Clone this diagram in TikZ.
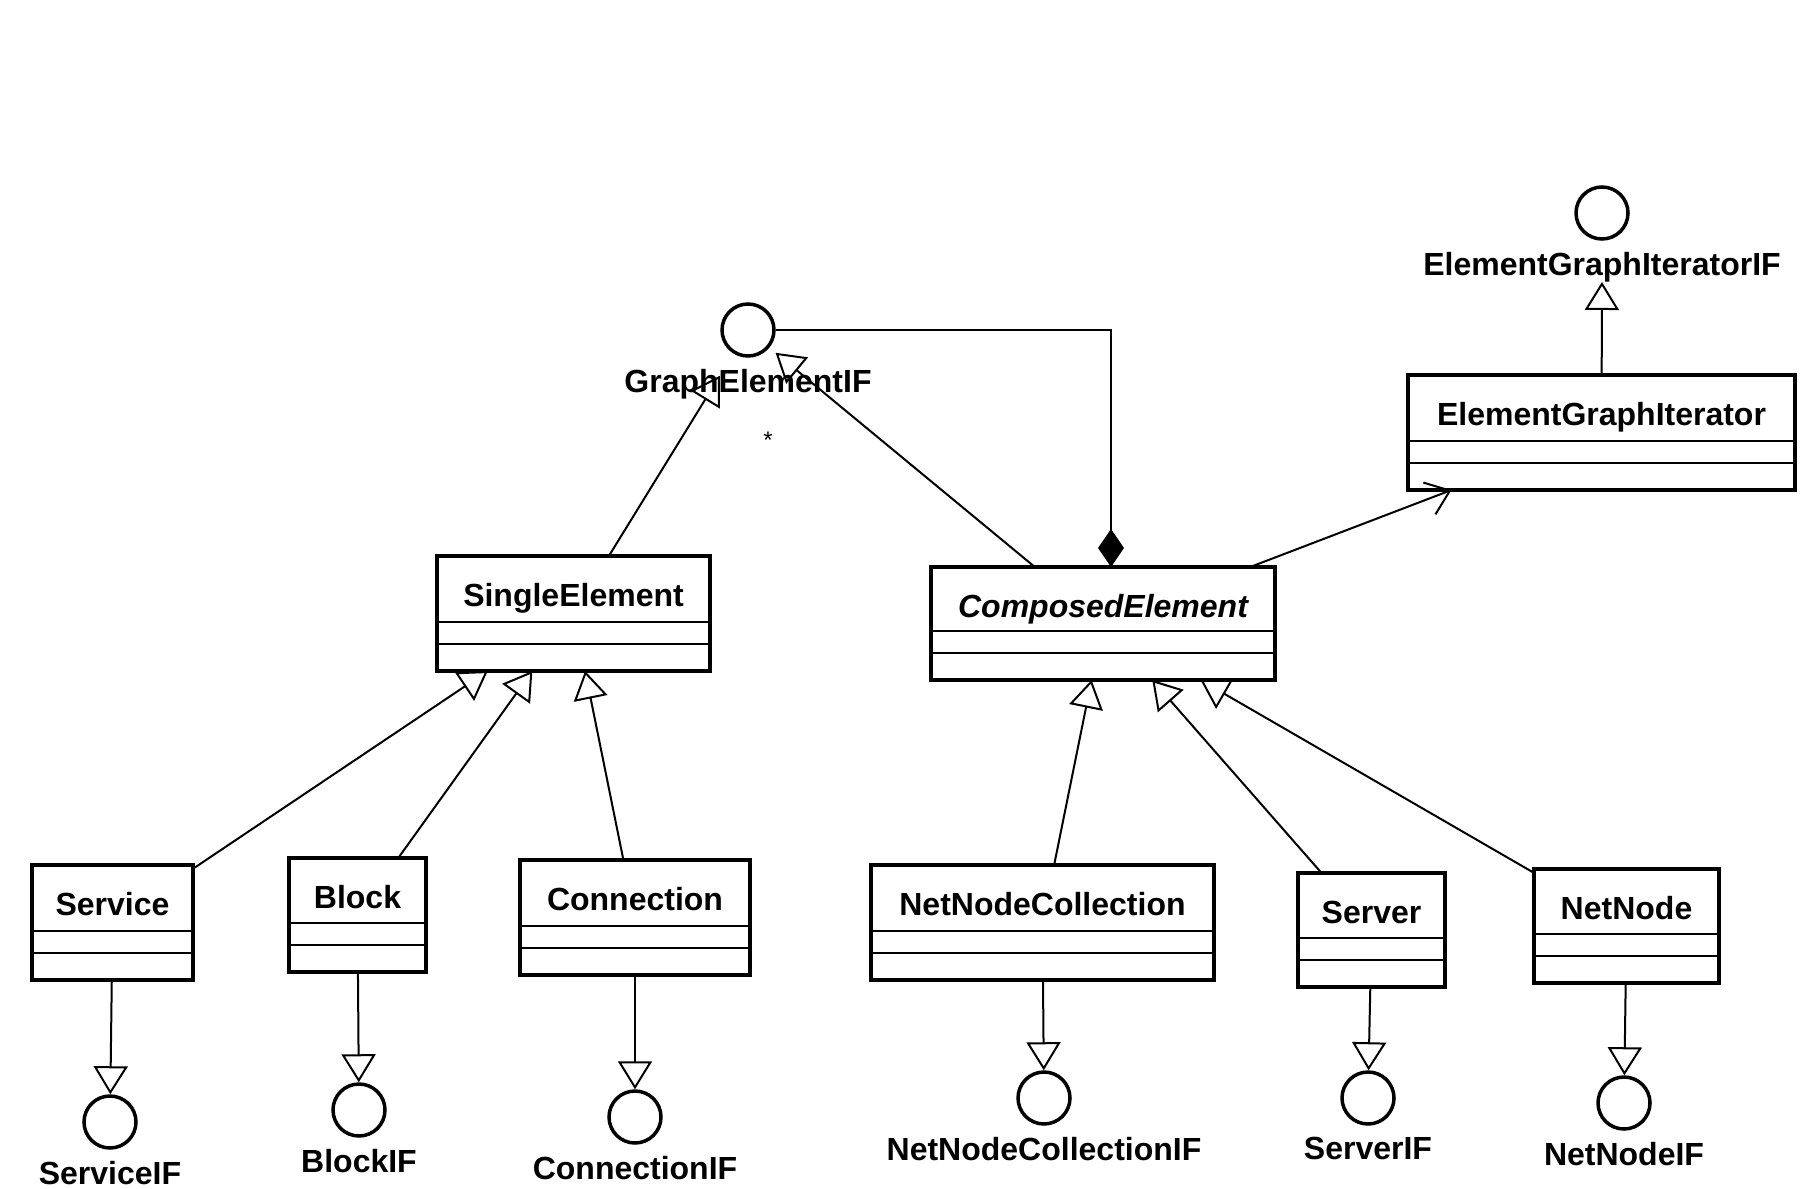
\documentclass[tikz,border=0pt]{standalone}
\usepackage{fontspec}
\setmainfont{Liberation Sans}
\usetikzlibrary{arrows.meta,fit,positioning}
\tikzset{
  classbox/.style={draw, line width=4.5pt, fill=white, inner sep=0pt, outer sep=0pt},
  classname/.style={anchor=base, inner sep=0pt, font=\fontsize{32pt}{38pt}\selectfont\bfseries},
  compline/.style={line width=2.5pt},
  iface/.style={draw, circle, line width=3.5pt, minimum size=52pt, inner sep=0pt},
  iflabel/.style={inner sep=0pt, font=\fontsize{32pt}{38pt}\selectfont\bfseries},
  realize/.style={line width=2pt, -{Triangle[open, length=28pt, width=34pt, line width=2pt]}},
  assoc/.style={line width=2pt, -{Straight Barb[length=22pt, width=34pt, line width=2pt]}},
  compose/.style={line width=2pt, -{Diamond[length=38pt, width=26pt]}}
}
\newcommand{\umlclass}[6]{
  \node[classbox, fit={(#2,#3) (#4,#5)}] (#1) {};
  \node[classname] (#1-name) at ([yshift=-50pt]#1.north) {#6};
  \draw[compline] ([yshift=49pt]#1.south west) -- ([yshift=49pt]#1.south east);
  \draw[compline] ([yshift=27pt]#1.south west) -- ([yshift=27pt]#1.south east);
}
\newcommand{\umliface}[4]{
  \node[iface] (#1) at (#2,#3) {};
  \node[iflabel, below=11pt of #1] (#1-l) {#4};
}
\begin{document}
\begin{tikzpicture}[x=1pt,y=-1pt]
\useasboundingbox (0,0) rectangle (1806,1188);
\umlclass{se}{437}{556}{710}{671}{SingleElement}
\umlclass{ce}{931}{567}{1275}{680}{\itshape ComposedElement}
\umlclass{egi}{1408}{375}{1795}{490}{ElementGraphIterator}
\umlclass{svc}{32}{865}{193}{980}{Service}
\umlclass{blk}{289}{858}{426}{972}{Block}
\umlclass{con}{520}{860}{750}{975}{Connection}
\umlclass{nnc}{871}{865}{1214}{980}{NetNodeCollection}
\umlclass{srv}{1298}{873}{1445}{987}{Server}
\umlclass{nn}{1534}{869}{1719}{983}{NetNode}
\umliface{geif}{748}{330}{GraphElementIF}
\umliface{egiif}{1602}{213}{ElementGraphIteratorIF}
\umliface{svcif}{110}{1122}{ServiceIF}
\umliface{blkif}{359}{1110}{BlockIF}
\umliface{conif}{635}{1117}{ConnectionIF}
\umliface{nncif}{1044}{1098}{NetNodeCollectionIF}
\umliface{srvif}{1368}{1098}{ServerIF}
\umliface{nnif}{1624}{1103}{NetNodeIF}
\node[font=\fontsize{24pt}{28pt}\selectfont] (mult) at (768,440) {*};
\draw[realize, shorten >=26pt] (se) -- (geif);
\draw[realize, shorten >=8pt] (ce) -- (geif);
\draw[compose] (geif.east) -| ([xshift=8pt]ce.north);
\draw[assoc] (ce) -- (egi);
\draw[realize] (egi) -- (egiif-l);
\foreach \sub in {svc,blk,con}{
  \draw[realize] (\sub) -- (se);
  \draw[realize] (\sub) -- (\sub if);
}
\foreach \sub in {nnc,srv,nn}{
  \draw[realize] (\sub) -- (ce);
  \draw[realize] (\sub) -- (\sub if);
}
\end{tikzpicture}
\end{document}
